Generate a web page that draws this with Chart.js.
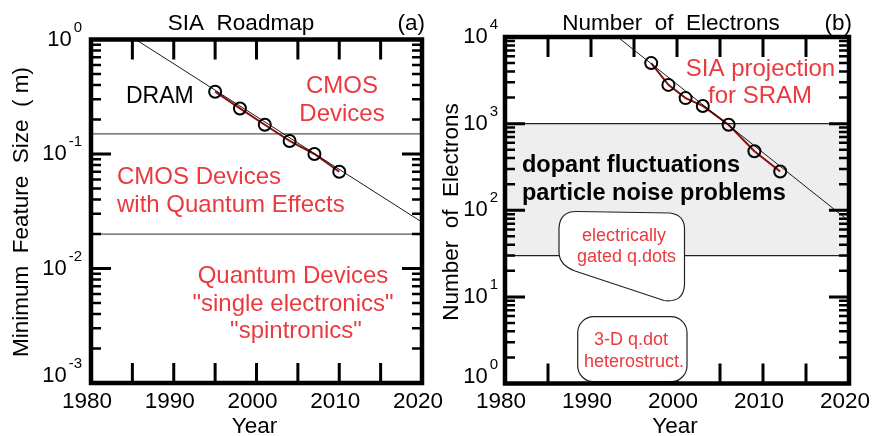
<!DOCTYPE html>
<html>
<head>
<meta charset="utf-8">
<script src="https://cdn.jsdelivr.net/npm/chart.js@4/dist/chart.umd.min.js"></script>
<style>
  html, body { margin: 0; padding: 0; background: #fff; }
  #wrap { position: relative; width: 873px; height: 436px; }
  canvas { position: absolute; top: 0; }
</style>
</head>
<body>
<div id="wrap">
  <canvas id="panelA" width="873" height="436" style="left:0"></canvas>
  <canvas id="panelB" width="437" height="436" style="left:436px"></canvas>
</div>
<script>
// ---- Panel (a): SIA roadmap, minimum feature size (um) ----
const roadmapYears = [1995, 1998, 2001, 2004, 2007, 2010];
const featureSize = [0.35, 0.25, 0.18, 0.13, 0.10, 0.07];
const dramTrendYears = [1985.4, 2020];
const dramTrendSize = [1.0, 0.0254];
const regimeBounds = [0.15, 0.02];
const sizeDecades = [0, -1, -2, -3];

// ---- Panel (b): number of electrons per SRAM cell ----
const sramYears = [1997, 1999, 2001, 2003, 2006, 2009, 2012];
const electronCount = [5000, 2800, 1970, 1600, 970, 480, 280];
const electronTrendYears = [1993.1, 2020];
const electronTrendCount = [10000, 75];
const noiseBand = [30, 1000];
const electronDecades = [4, 3, 2, 1, 0];

// ---- shared year axis ----
const yearLabels = [1980, 1990, 2000, 2010, 2020];
const yearTicks = [1985, 1990, 1995, 2000, 2005, 2010, 2015];

const FONT = '"Liberation Sans", Arial, Helvetica, sans-serif';
const RED = '#ea3a3f';

function pts(xs, ys) { return xs.map((x, i) => ({ x, y: ys[i] })); }

function drawPower(ctx, xRight, yMid, exp) {
  const base = '10', e = String(exp);
  ctx.font = '15px ' + FONT;
  const ew = ctx.measureText(e).width;
  ctx.font = '22px ' + FONT;
  const bw = ctx.measureText(base).width;
  ctx.fillStyle = '#000';
  ctx.textBaseline = 'middle';
  ctx.textAlign = 'left';
  ctx.fillText(base, xRight - ew - 2 - bw, yMid);
  ctx.font = '15px ' + FONT;
  ctx.fillText(e, xRight - ew, yMid - 12);
}

// Frame, inward ticks, tick labels and titles drawn from the chart's own scales
function framePlugin(cfg) {
  return {
    id: 'frame',
    afterDatasetsDraw(chart) {
      const { ctx, chartArea: a, scales: { x, y } } = chart;
      ctx.save();
      ctx.strokeStyle = '#000';
      ctx.lineCap = 'butt';
      // year ticks, top and bottom
      ctx.lineWidth = 3;
      yearTicks.forEach(v => {
        const px = x.getPixelForValue(v);
        ctx.beginPath();
        ctx.moveTo(px, a.top); ctx.lineTo(px, a.top + 20);
        ctx.moveTo(px, a.bottom); ctx.lineTo(px, a.bottom - 20);
        ctx.stroke();
      });
      // decade and minor ticks, left and right
      const decs = cfg.decades;
      const lo = Math.min(...decs), hi = Math.max(...decs);
      for (let d = lo; d <= hi; d++) {
        const py = y.getPixelForValue(Math.pow(10, d));
        ctx.lineWidth = 3;
        ctx.beginPath();
        ctx.moveTo(a.left, py); ctx.lineTo(a.left + 20, py);
        ctx.moveTo(a.right, py); ctx.lineTo(a.right - 20, py);
        ctx.stroke();
        if (d < hi) {
          ctx.lineWidth = 2.5;
          for (let m = 2; m <= 9; m++) {
            const my = y.getPixelForValue(m * Math.pow(10, d));
            ctx.beginPath();
            ctx.moveTo(a.left, my); ctx.lineTo(a.left + 10, my);
            ctx.moveTo(a.right, my); ctx.lineTo(a.right - 10, my);
            ctx.stroke();
          }
        }
      }
      ctx.restore();

      // boxes and notes that sit over the ticks
      if (cfg.overlay) cfg.overlay(ctx, chart);

      ctx.save();
      // border
      ctx.strokeStyle = '#000';
      ctx.lineWidth = 4.5;
      ctx.strokeRect(a.left, a.top, a.right - a.left, a.bottom - a.top);

      // y tick labels
      decs.forEach(d => {
        let py = y.getPixelForValue(Math.pow(10, d));
        if (d === lo) py -= 7;
        drawPower(ctx, a.left - cfg.labelGap, py, d);
      });
      // year labels
      ctx.fillStyle = '#000';
      ctx.font = '22.5px ' + FONT;
      ctx.textAlign = 'center';
      ctx.textBaseline = 'alphabetic';
      yearLabels.forEach(v => {
        ctx.fillText(String(v), x.getPixelForValue(v) - 4, 408);
      });
      ctx.fillText('Year', (a.left + a.right) / 2 - 2, 433);
      // title and panel letter
      ctx.fillText(cfg.title, cfg.titleX, 30);
      ctx.textAlign = 'right';
      ctx.fillText(cfg.letter, a.right + 3, 30);
      // rotated axis title
      ctx.save();
      ctx.translate(cfg.yTitleX, cfg.yTitleY);
      ctx.rotate(-Math.PI / 2);
      ctx.textAlign = 'center';
      ctx.textBaseline = 'middle';
      ctx.fillText(cfg.yTitle, 0, 0);
      ctx.restore();
      ctx.restore();
    }
  };
}

function baseOptions(pad, yMin, yMax) {
  return {
    responsive: false,
    animation: false,
    devicePixelRatio: 1,
    layout: { padding: pad },
    plugins: { legend: { display: false }, tooltip: { enabled: false } },
    scales: {
      x: { type: 'linear', min: 1980, max: 2020, display: false },
      y: { type: 'logarithmic', min: yMin, max: yMax, display: false }
    }
  };
}

// ---------- Panel (a) ----------
function notesA(ctx) {
  ctx.save();
  ctx.textBaseline = 'alphabetic';
  ctx.fillStyle = '#000';
  ctx.font = '23px ' + FONT;
  ctx.textAlign = 'left';
  ctx.fillText('DRAM', 126, 103);
  ctx.fillStyle = RED;
  ctx.font = '24px ' + FONT;
  ctx.textAlign = 'center';
  ctx.fillText('CMOS', 342, 93);
  ctx.fillText('Devices', 342, 121);
  ctx.textAlign = 'left';
  ctx.fillText('CMOS Devices', 117, 184);
  ctx.fillText('with Quantum Effects', 117, 212);
  ctx.textAlign = 'center';
  ctx.fillText('Quantum Devices', 293, 283);
  ctx.fillText('"single electronics"', 293, 311);
  ctx.fillText('"spintronics"', 296, 338);
  ctx.restore();
}

new Chart(document.getElementById('panelA'), {
  type: 'scatter',
  data: {
    datasets: [
      { data: pts(roadmapYears, featureSize), showLine: false, pointRadius: 6,
        pointBorderWidth: 2, pointBorderColor: '#000', pointBackgroundColor: 'rgba(0,0,0,0)', order: 0 },
      { data: pts(dramTrendYears, dramTrendSize), showLine: true, borderColor: '#000',
        borderWidth: 0.9, pointRadius: 0, order: 1 },
      { data: pts(roadmapYears, featureSize), showLine: true, borderColor: '#8a1010',
        borderWidth: 2, pointRadius: 0, order: 2 },
      { data: pts([1980, 2020], [regimeBounds[0], regimeBounds[0]]), showLine: true,
        borderColor: '#555', borderWidth: 1.2, pointRadius: 0, order: 3 },
      { data: pts([1980, 2020], [regimeBounds[1], regimeBounds[1]]), showLine: true,
        borderColor: '#555', borderWidth: 1.2, pointRadius: 0, order: 3 }
    ]
  },
  options: baseOptions({ left: 91, right: 451, top: 39.5, bottom: 53 }, 1e-3, 1),
  plugins: [framePlugin({
    decades: sizeDecades, labelGap: 9,
    title: 'SIA  Roadmap', titleX: 241, letter: '(a)',
    yTitle: 'Minimum  Feature  Size  ( m)', yTitleX: 22, yTitleY: 212,
    overlay: notesA
  })]
});

// ---------- Panel (b) ----------
const bandB = {
  id: 'bandB',
  beforeDatasetsDraw(chart) {
    const { ctx, chartArea: a, scales: { y } } = chart;
    const yTop = y.getPixelForValue(noiseBand[1]);
    const yBot = y.getPixelForValue(noiseBand[0]);
    ctx.save();
    ctx.fillStyle = '#eeeeee';
    ctx.fillRect(a.left, yTop, a.right - a.left, yBot - yTop);
    ctx.strokeStyle = '#222';
    ctx.lineWidth = 1.2;
    ctx.beginPath();
    ctx.moveTo(a.left, yTop); ctx.lineTo(a.right, yTop);
    ctx.moveTo(a.left, yBot); ctx.lineTo(a.right, yBot);
    ctx.stroke();
    ctx.restore();
  }
};

function notesB(ctx) {
  ctx.save();
  ctx.textBaseline = 'alphabetic';
  ctx.fillStyle = RED;
  ctx.font = '24px ' + FONT;
  ctx.textAlign = 'center';
  ctx.fillText('SIA projection', 324.5, 76);
  ctx.fillText('for SRAM', 324, 103);
  ctx.fillStyle = '#000';
  ctx.font = 'bold 23.5px ' + FONT;
  ctx.textAlign = 'left';
  ctx.fillText('dopant fluctuations', 86, 172);
  ctx.fillText('particle noise problems', 86, 200);

  ctx.strokeStyle = '#222';
  ctx.fillStyle = '#fff';
  ctx.lineWidth = 1.2;
  // call-out for electrically gated dots
  ctx.beginPath();
  ctx.moveTo(141, 211.5);
  ctx.lineTo(234, 213);
  ctx.quadraticCurveTo(248.5, 215, 248.5, 229);
  ctx.lineTo(248.5, 285);
  ctx.quadraticCurveTo(247.5, 303, 228, 300.5);
  ctx.lineTo(139, 271);
  ctx.quadraticCurveTo(123, 265, 123, 252);
  ctx.lineTo(123, 228);
  ctx.quadraticCurveTo(124, 211, 141, 211.5);
  ctx.closePath();
  ctx.fill();
  ctx.stroke();

  // rounded box for 3-D dots
  ctx.beginPath();
  ctx.roundRect(141.7, 316.7, 109.3, 65, 16);
  ctx.fill();
  ctx.stroke();

  ctx.fillStyle = RED;
  ctx.font = '18px ' + FONT;
  ctx.textAlign = 'center';
  ctx.fillText('electrically', 188, 241);
  ctx.fillText('gated q.dots', 190.5, 262);
  ctx.fillText('3-D q.dot', 195, 345);
  ctx.fillText('heterostruct.', 198, 367);
  ctx.restore();
}

new Chart(document.getElementById('panelB'), {
  type: 'scatter',
  data: {
    datasets: [
      { data: pts(sramYears, electronCount), showLine: false, pointRadius: 6,
        pointBorderWidth: 2, pointBorderColor: '#000', pointBackgroundColor: 'rgba(0,0,0,0)', order: 0 },
      { data: pts(electronTrendYears, electronTrendCount), showLine: true, borderColor: '#000',
        borderWidth: 0.9, pointRadius: 0, order: 1 },
      { data: pts(sramYears, electronCount), showLine: true, borderColor: '#8a1010',
        borderWidth: 2, pointRadius: 0, order: 2 }
    ]
  },
  options: baseOptions({ left: 69, right: 24, top: 37, bottom: 52.5 }, 1, 1e4),
  plugins: [bandB, framePlugin({
    decades: electronDecades, labelGap: 7,
    title: 'Number  of  Electrons', titleX: 235, letter: '(b)',
    yTitle: 'Number  of  Electrons', yTitleX: 16, yTitleY: 212,
    overlay: notesB
  })]
});
</script>
</body>
</html>
